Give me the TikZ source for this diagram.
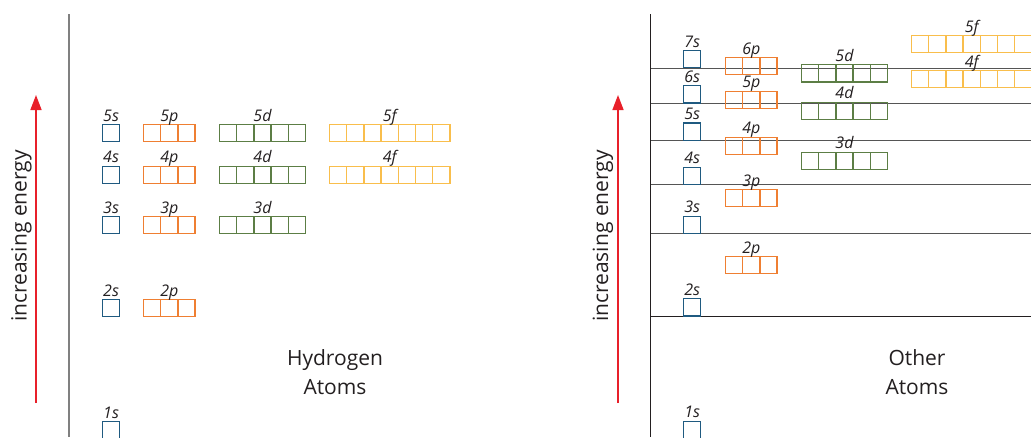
\documentclass[tikz,border=0pt]{standalone}
\usepackage{fontspec}
\setmainfont{Open Sans}
\usetikzlibrary{arrows.meta}
\definecolor{sblue}{HTML}{1F5A80}
\definecolor{porange}{HTML}{EF7F32}
\definecolor{dgreen}{HTML}{5C7E45}
\definecolor{fyellow}{HTML}{F9BE4C}
\definecolor{txt}{HTML}{231F20}
\definecolor{arrred}{HTML}{E8202A}
\definecolor{lvl}{HTML}{555555}
\newcommand\orbital[6]{%
  \node[orbbox,draw=#5,minimum width={#4*17.2pt},anchor=north west] (#1) at (#2,#3) {};
  \ifnum#4>1
    \foreach \i in {2,...,#4} {\draw[draw=#5,line width=1.3pt] (#1.north west) ++({(\i-1)*17.2},0) -- ++(0,17.2);}
  \fi
  \node[orblabel] (#1-lab) at (#1.north) [yshift=3.5pt] {#6};
}
\begin{document}
\begin{tikzpicture}[x=1pt,y=-1pt,
  orbbox/.style={draw,line width=1.3pt,minimum height=17.2pt,inner sep=0pt,outer sep=0pt},
  orblabel/.style={font=\fontsize{16}{16}\selectfont\itshape,text=txt,anchor=base,inner sep=0pt},
  title/.style={font=\fontsize{21}{29}\selectfont,text=txt,align=center},
  axislab/.style={font=\fontsize{21}{21}\selectfont,text=txt,rotate=90},
  energy/.style={draw=arrred,line width=1.5pt,-{Triangle[width=11pt,length=15pt]}},
  axis/.style={draw=lvl,line width=1.2pt},
  level/.style={draw=lvl,line width=1.1pt}]
\useasboundingbox (0,0) rectangle (1031,437);
% ---------- left panel ----------
\coordinate (LA0) at (36,403); \coordinate (LA1) at (36,95);
\draw[energy] (LA0) -- (LA1);
\node[axislab] (Lel) at (21.5,236) {increasing energy};
\coordinate (LV0) at (69,14); \coordinate (LV1) at (69,437);
\draw[axis,draw=gray] (LV0) -- (LV1);
\orbital{H5s}{102.5}{124.5}{1}{sblue}{5s}
\orbital{H5p}{143.5}{124.5}{3}{porange}{5p}
\orbital{H5d}{219.5}{124.5}{5}{dgreen}{5d}
\orbital{H5f}{329.5}{124.5}{7}{fyellow}{5f}
\orbital{H4s}{102.5}{166.3}{1}{sblue}{4s}
\orbital{H4p}{143.5}{166.3}{3}{porange}{4p}
\orbital{H4d}{219.5}{166.3}{5}{dgreen}{4d}
\orbital{H4f}{329.5}{166.3}{7}{fyellow}{4f}
\orbital{H3s}{102.5}{216.5}{1}{sblue}{3s}
\orbital{H3p}{143.5}{216.5}{3}{porange}{3p}
\orbital{H3d}{219.5}{216.5}{5}{dgreen}{3d}
\orbital{H2s}{102.5}{299.5}{1}{sblue}{2s}
\orbital{H2p}{143.5}{299.5}{3}{porange}{2p}
\orbital{H1s}{102.5}{421.8}{1}{sblue}{1s}
\node[title] (Ht) at (335,372) {Hydrogen\\Atoms};
% ---------- right panel ----------
\coordinate (RA0) at (618,403); \coordinate (RA1) at (618,95);
\draw[energy] (RA0) -- (RA1);
\node[axislab] (Rel) at (603,236) {increasing energy};
\coordinate (RV0) at (650.5,14); \coordinate (RV1) at (650.5,437);
\draw[axis,draw=txt] (RV0) -- (RV1);
\foreach \y [count=\k] in {68.3,103.3,140.3,184.5,233.5} {
  \coordinate (L\k a) at (650.5,\y); \coordinate (L\k b) at (1031,\y);
  \draw[level] (L\k a) -- (L\k b);
}
\coordinate (L6a) at (650.5,316.3); \coordinate (L6b) at (1031,316.3);
\draw[level,draw=txt] (L6a) -- (L6b);
\orbital{O7s}{683.5}{50.5}{1}{sblue}{7s}
\orbital{O6s}{683.5}{85.8}{1}{sblue}{6s}
\orbital{O5s}{683.5}{123}{1}{sblue}{5s}
\orbital{O4s}{683.5}{167.3}{1}{sblue}{4s}
\orbital{O3s}{683.5}{216.2}{1}{sblue}{3s}
\orbital{O2s}{683.5}{298.8}{1}{sblue}{2s}
\orbital{O1s}{683.5}{421.3}{1}{sblue}{1s}
\orbital{O6p}{725.5}{57.6}{3}{porange}{6p}
\orbital{O5p}{725.5}{91.2}{3}{porange}{5p}
\orbital{O4p}{725.5}{137.2}{3}{porange}{4p}
\orbital{O3p}{725.5}{189.5}{3}{porange}{3p}
\orbital{O2p}{725.5}{256.5}{3}{porange}{2p}
\orbital{O5d}{801.5}{64.7}{5}{dgreen}{5d}
\orbital{O4d}{801.5}{102.2}{5}{dgreen}{4d}
\orbital{O3d}{801.5}{152.2}{5}{dgreen}{3d}
\orbital{O5f}{911.5}{35.5}{7}{fyellow}{5f}
\orbital{O4f}{911.5}{70.5}{7}{fyellow}{4f}
\node[title] (Ot) at (917,372) {Other\\Atoms};
\end{tikzpicture}
\end{document}
